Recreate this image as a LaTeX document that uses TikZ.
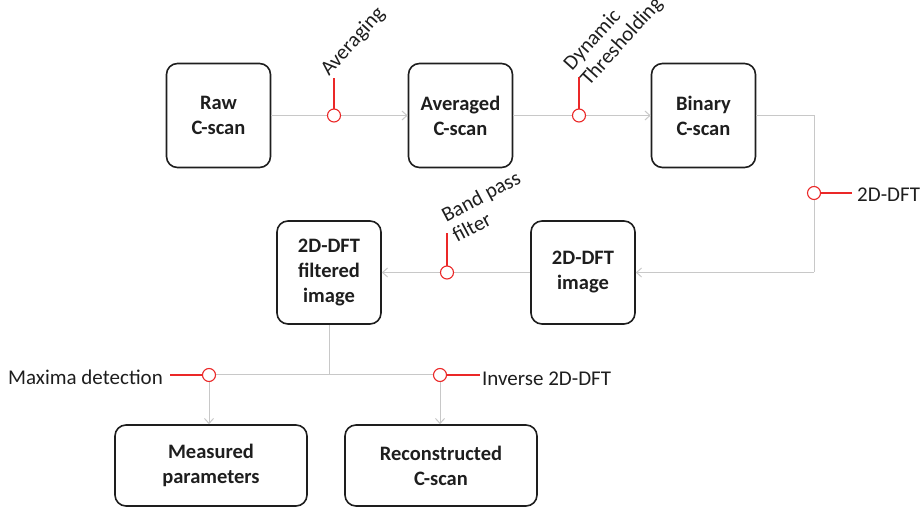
\documentclass[tikz,border=0pt]{standalone}
\usepackage{fontspec}
\setmainfont{Carlito}
\usetikzlibrary{arrows.meta}
\definecolor{lgray}{RGB}{200,200,200}
\definecolor{redc}{RGB}{235,40,40}
\definecolor{txt}{RGB}{30,30,30}
\tikzset{
  box/.style={draw=txt, line width=1.6pt, rounded corners=11pt, align=center,
    font=\fontsize{20.5}{25}\selectfont\bfseries, text=txt, inner sep=0pt},
  sqbox/.style={box, minimum width=104pt, minimum height=104pt},
  widebox/.style={box, minimum width=192pt, minimum height=81pt},
  conn/.style={draw=lgray, line width=1pt},
  arr/.style={conn, -{Straight Barb[length=5pt,width=9pt]}},
  opc/.style={circle, draw=redc, fill=white, line width=1.1pt, minimum size=13pt, inner sep=0pt},
  stem/.style={draw=redc, line width=1.5pt},
  lbl/.style={font=\fontsize{21}{23}\selectfont, text=txt, inner sep=0pt, align=left}
}
\begin{document}
\begin{tikzpicture}[x=1pt,y=-1pt]
\useasboundingbox (0,0) rectangle (921,510);
% boxes
\node[sqbox] (raw) at (218.5,115.5) {Raw\\C-scan};
\node[sqbox] (avg) at (460.5,115.5) {Averaged\\C-scan};
\node[sqbox] (bin) at (703.5,115.5) {Binary\\C-scan};
\node[sqbox, minimum height=103pt] (dft) at (583,272.5) {2D-DFT\\image};
\node[sqbox, minimum height=103pt] (filt) at (329,272.5) {2D-DFT\\filtered\\image};
\node[widebox] (meas) at (211,465.5) {Measured\\parameters};
\node[widebox] (rec) at (441,465.5) {Reconstructed\\C-scan};
% coordinates
\coordinate (c1) at (334,115.5);
\coordinate (c2) at (579,115.5);
\coordinate (k1) at (814,115.5);
\coordinate (c3) at (814,193);
\coordinate (k2) at (814,272.5);
\coordinate (c4) at (447,272.5);
\coordinate (j) at (329,375);
\coordinate (c5) at (209,375);
\coordinate (c6) at (440,375);
\coordinate (s1) at (334,78);
\coordinate (s2) at (579,77);
\coordinate (s3) at (852,193);
\coordinate (s4) at (447,233);
\coordinate (s5) at (170,375);
\coordinate (s6) at (480,375);
% connectors
\draw[arr] (raw.east) -- (avg.west);
\draw[arr] (avg.east) -- (bin.west);
\draw[conn] (bin.east) -- (k1) -- (k2);
\draw[arr] (k2) -- (dft.east);
\draw[arr] (dft.west) -- (filt.east);
\draw[conn] (filt.south) -- (j);
\draw[conn] (c5) -- (c6);
\draw[arr] (c5) -- (c5 |- meas.north);
\draw[arr] (c6) -- (c6 |- rec.north);
% red stems
\draw[stem] (c1) -- (s1);
\draw[stem] (c2) -- (s2);
\draw[stem] (c3) -- (s3);
\draw[stem] (c4) -- (s4);
\draw[stem] (c5) -- (s5);
\draw[stem] (c6) -- (s6);
% circles
\node[opc] (o1) at (c1) {};
\node[opc] (o2) at (c2) {};
\node[opc] (o3) at (c3) {};
\node[opc] (o4) at (c4) {};
\node[opc] (o5) at (c5) {};
\node[opc] (o6) at (c6) {};
% labels
\node[lbl, rotate=48, anchor=base west] (l1) at (329,77) {Averaging};
\node[lbl, rotate=48, anchor=base west] (l2) at (589,87) {Dynamic\\Thresholding};
\node[lbl, anchor=west] (l3) at (857,195) {2D-DFT};
\node[lbl, rotate=28, anchor=base west] (l4) at (457,243) {Band pass\\filter};
\node[lbl, anchor=east] (l5) at (163,377) {Maxima detection};
\node[lbl, anchor=west] (l6) at (482,379) {Inverse 2D-DFT};
\end{tikzpicture}
\end{document}
